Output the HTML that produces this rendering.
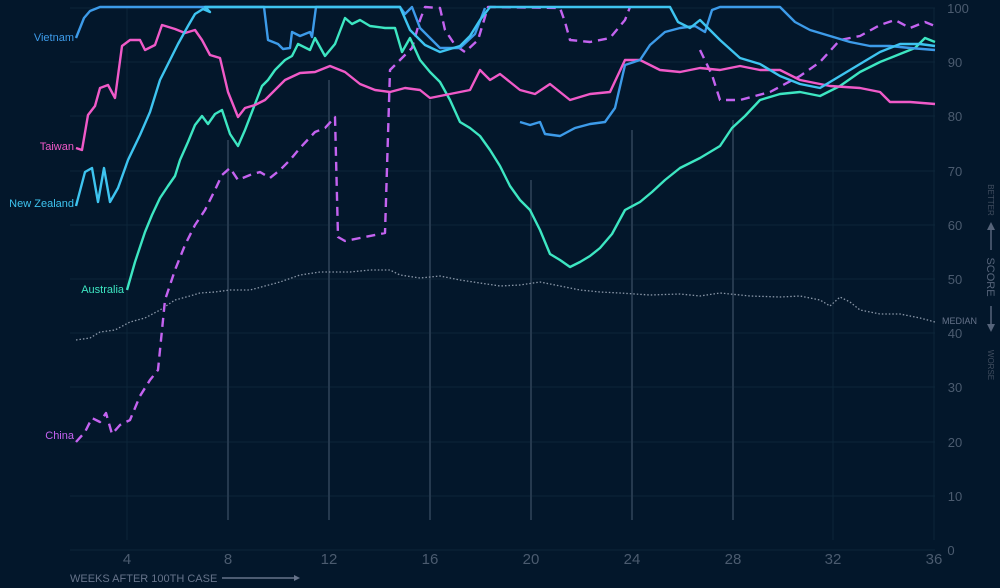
<!DOCTYPE html><html><head><meta charset="utf-8"><style>
html,body{margin:0;padding:0;background:#03172b;}
svg{display:block;font-family:"Liberation Sans",sans-serif;}
</style></head><body>
<svg width="1000" height="588" viewBox="0 0 1000 588">
<rect width="1000" height="588" fill="#03172b"/>
<g stroke="#0c2539" stroke-width="1">
<line x1="70" y1="550" x2="935" y2="550"/><line x1="70" y1="496" x2="935" y2="496"/><line x1="70" y1="442" x2="935" y2="442"/><line x1="70" y1="387" x2="935" y2="387"/><line x1="70" y1="333" x2="935" y2="333"/><line x1="70" y1="279" x2="935" y2="279"/><line x1="70" y1="225" x2="935" y2="225"/><line x1="70" y1="171" x2="935" y2="171"/><line x1="70" y1="116" x2="935" y2="116"/><line x1="70" y1="62" x2="935" y2="62"/><line x1="70" y1="8" x2="935" y2="8"/>
<line x1="127" y1="8" x2="127" y2="540"/><line x1="934" y1="8" x2="934" y2="540"/><line x1="833" y1="8" x2="833" y2="540"/>
</g>
<g stroke="#25394e" stroke-width="2">
<line x1="228" y1="140" x2="228" y2="520"/><line x1="329" y1="80" x2="329" y2="520"/><line x1="430" y1="100" x2="430" y2="520"/><line x1="531" y1="180" x2="531" y2="520"/><line x1="632" y1="130" x2="632" y2="520"/><line x1="733" y1="120" x2="733" y2="520"/>
</g>
<g fill="#4b5b6f" font-size="15" text-anchor="middle">
<text x="127" y="564">4</text><text x="228" y="564">8</text><text x="329" y="564">12</text><text x="430" y="564">16</text><text x="531" y="564">20</text><text x="632" y="564">24</text><text x="733" y="564">28</text><text x="833" y="564">32</text><text x="934" y="564">36</text>
</g>
<g fill="#4b5b6f" font-size="13" text-anchor="middle">
<text x="951" y="555">0</text><text x="955" y="501">10</text><text x="955" y="447">20</text><text x="955" y="392">30</text><text x="955" y="338">40</text><text x="955" y="284">50</text><text x="955" y="230">60</text><text x="955" y="176">70</text><text x="955" y="121">80</text><text x="955" y="67">90</text><text x="958" y="13">100</text>
</g>
<text x="70" y="582" fill="#66738a" font-size="11">WEEKS AFTER 100TH CASE</text>
<line x1="222" y1="578" x2="294" y2="578" stroke="#66738a" stroke-width="1.5"/><path d="M294 575 L300 578 L294 581Z" fill="#66738a"/>
<text x="942" y="324" fill="#66738a" font-size="9">MEDIAN</text>
<text transform="translate(987,277) rotate(90)" fill="#56647a" font-size="11" text-anchor="middle">SCORE</text>
<text transform="translate(988,200) rotate(90)" fill="#3f4c5e" font-size="8" text-anchor="middle">BETTER</text>
<text transform="translate(988,365) rotate(90)" fill="#3f4c5e" font-size="8" text-anchor="middle">WORSE</text>
<line x1="991" y1="228" x2="991" y2="250" stroke="#56647a" stroke-width="1.5"/><path d="M987 230 L991 222 L995 230Z" fill="#56647a"/>
<line x1="991" y1="306" x2="991" y2="326" stroke="#56647a" stroke-width="1.5"/><path d="M987 324 L991 332 L995 324Z" fill="#56647a"/>
<g font-size="11">
<text x="74" y="41" fill="#3d9be9" text-anchor="end">Vietnam</text>
<text x="74" y="150" fill="#f05ac8" text-anchor="end">Taiwan</text>
<text x="74" y="207" fill="#3ec4f0" text-anchor="end">New Zealand</text>
<text x="124" y="293" fill="#3de6c2" text-anchor="end">Australia</text>
<text x="74" y="439" fill="#c463f0" text-anchor="end">China</text>
</g>
<g fill="none" stroke-linejoin="round" stroke-width="2.4">
<polyline stroke="#8a97a8" stroke-width="1.3" stroke-dasharray="1.5,2" points="76,340 90,338 100,332 115,330 130,322 145,318 160,310 175,300 190,296 200,293 215,292 230,290 250,290 265,286 280,282 300,275 320,272 350,272 370,270 390,270 400,275 420,278 440,276 460,280 480,283 500,286 520,285 540,282 560,286 580,290 600,292 620,293 650,295 680,294 700,296 720,293 750,296 780,297 800,296 820,300 830,306 840,297 850,302 860,310 880,314 900,314 920,318 935,322"/>
<polyline stroke="#c463f0" stroke-dasharray="9,6" points="76,442 85,432 92,418 100,422 106,413 112,434 120,425 130,420 140,396 150,380 158,370 165,300 175,270 185,245 195,225 205,210 215,190 222,175 230,168 238,180 250,175 260,172 270,178 280,170 290,160 300,148 315,132 325,128 335,117 338,237 345,241 360,238 385,233 390,70 400,60 412,48 420,20 425,7 440,8 445,30 455,45 465,52 478,40 488,7 560,8 565,22 570,40 590,42 610,38 625,20 630,7"/>
<polyline stroke="#c463f0" stroke-dasharray="9,6" points="700,50 712,75 720,100 740,100 770,92 800,76 820,62 840,40 860,36 880,25 895,20 910,28 925,22 935,26"/>
<polyline stroke="#3de6c2" points="127,290 135,262 145,232 152,215 160,198 168,186 175,176 180,160 188,142 195,125 202,116 208,124 215,114 222,110 230,134 238,146 245,130 255,104 262,86 268,80 275,70 285,60 292,56 298,44 310,50 315,38 325,56 335,44 345,18 352,24 360,20 370,26 385,28 395,28 402,52 410,38 420,60 430,72 440,82 450,100 460,122 470,128 480,136 490,150 500,166 510,186 520,200 530,210 540,230 550,254 560,260 570,267 580,262 590,256 600,248 612,234 625,210 640,202 652,192 665,180 680,168 700,158 720,146 732,128 745,116 760,100 780,94 800,92 820,96 840,86 860,72 880,62 900,54 915,48 925,38 935,42"/>
<polyline stroke="#f05ac8" points="76,148 82,150 88,115 95,106 100,88 108,85 115,98 122,46 130,40 140,40 145,50 155,45 162,25 175,29 185,33 195,30 202,40 210,55 220,58 228,92 238,117 245,108 255,105 265,100 275,90 285,80 300,73 315,72 330,66 345,72 360,84 375,90 390,92 405,88 420,90 430,98 450,94 470,90 480,70 490,80 500,74 510,82 520,90 535,94 550,84 570,100 590,94 610,92 625,60 640,60 660,70 680,72 700,68 720,70 740,66 760,70 780,70 800,80 830,86 860,88 880,92 890,102 910,102 935,104"/>
<polyline stroke="#3d9be9" points="76,38 80,28 84,18 90,11 100,7 264,7 268,40 278,44 283,49 290,48 292,32 300,36 310,32 312,37 316,7 400,7 405,14 412,7 420,28 440,48 460,48 475,34 485,8"/>
<polyline stroke="#3d9be9" points="520,122 530,125 540,122 545,134 560,136 575,128 590,124 605,122 615,108 625,65 640,60 650,45 665,32 680,28 695,26 705,32 712,10 720,7 780,7 795,22 810,30 830,36 850,42 870,46 890,46 910,48 935,50"/>
<polyline stroke="#3ec4f0" points="76,206 85,172 92,168 98,202 104,168 110,202 118,188 128,160 140,135 150,112 160,80 168,64 178,44 188,26 195,14 203,9 210,12 205,7 320,7 400,7 410,30 425,45 440,52 460,46 470,36 480,20 490,7 670,7 678,22 690,28 700,20 720,40 740,58 760,64 780,76 800,84 820,88 840,76 860,64 880,52 900,44 920,44 935,46"/>
</g>
</svg>
</body></html>
